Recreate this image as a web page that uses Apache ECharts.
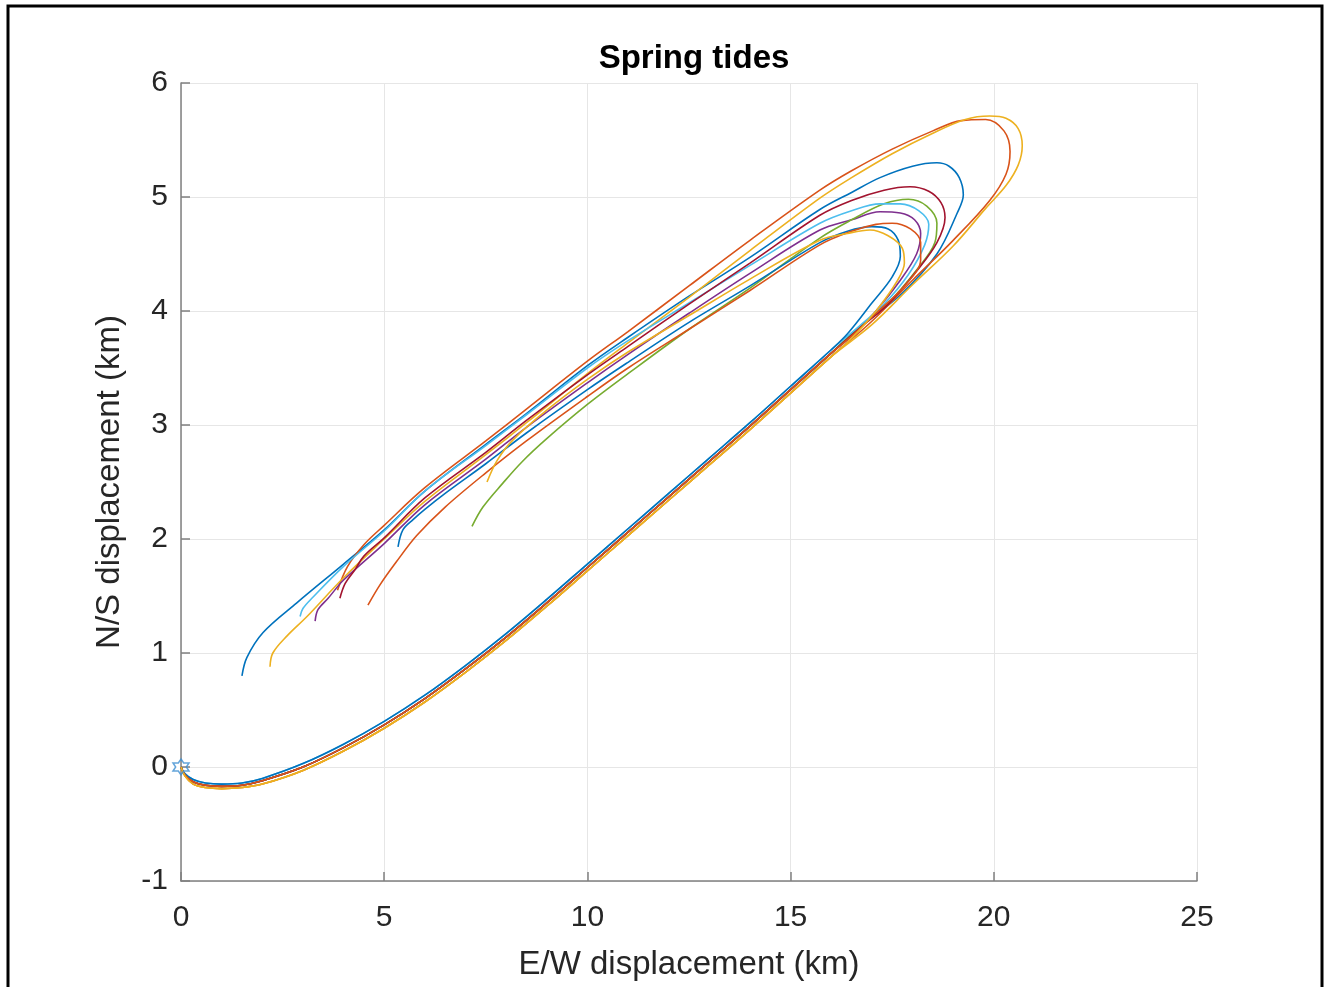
<!DOCTYPE html>
<html>
<head>
<meta charset="utf-8">
<title>Spring tides</title>
<script src="https://cdn.jsdelivr.net/npm/echarts@6/dist/echarts.min.js"></script>
<style>
  html, body { margin: 0; padding: 0; background: #fff; }
  #chart { width: 1332px; height: 987px; }
</style>
</head>
<body>
<div id="chart"></div>
<script>
// axis ticks
const xTicks = [0, 5, 10, 15, 20, 25];
const yTicks = [-1, 0, 1, 2, 3, 4, 5, 6];

// MATLAB default colour order
const lineColors = ['#0072BD', '#D95319', '#EDB120', '#7E2F8E', '#77AC30',
                    '#4DBEEE', '#A2142F', '#0072BD', '#D95319', '#EDB120'];

// shared flood path from the release point (three slightly different strands of the bundle)
const lowOuter = [[0,0],[0.1,-0.08],[0.3,-0.15],[0.6,-0.18],[1,-0.19],[1.5,-0.18],[2,-0.15],[3,-0.03],[4,0.14],[5,0.34],[6,0.57],[7,0.83],[8,1.11],[9,1.41],[10,1.72],[11,2.03],[12,2.34],[13,2.65],[14,2.96],[15,3.28],[16,3.6]];
const lowMid = [[0,0],[0.1,-0.07],[0.3,-0.13],[0.6,-0.16],[1,-0.17],[1.5,-0.16],[2,-0.12],[3,0],[4,0.17],[5,0.37],[6,0.6],[7,0.86],[8,1.14],[9,1.44],[10,1.75],[11,2.06],[12,2.37],[13,2.68],[14,2.99],[15,3.31],[16,3.63]];
const lowInner = [[0,0],[0.1,-0.06],[0.3,-0.11],[0.6,-0.14],[1,-0.15],[1.5,-0.14],[2,-0.1],[3,0.03],[4,0.2],[5,0.4],[6,0.63],[7,0.89],[8,1.17],[9,1.47],[10,1.78],[11,2.09],[12,2.4],[13,2.71],[14,3.02],[15,3.34],[16,3.66]];

// turn at the north-east end and ebb path back, one per release
const turn1 = [[16.7,3.86],[17.7,4.14],[18.6,4.5],[19.1,4.86],[19.25,5.02],[19.15,5.17],[18.9,5.27],[18.6,5.3],[18,5.27],[17.2,5.17],[16.5,5.04],[15.72,4.89],[14,4.47],[12.5,4.13],[11,3.77],[10,3.52],[8.5,3.1],[7.5,2.83],[6,2.42],[5,2.08],[4,1.78],[2.85,1.44],[2.02,1.18],[1.62,0.96],[1.5,0.8]];
const turn2 = [[17,3.91],[18,4.27],[19,4.62],[19.9,4.97],[20.3,5.2],[20.4,5.4],[20.25,5.58],[19.8,5.68],[19.2,5.67],[18.5,5.58],[17.5,5.42],[16.5,5.23],[15.72,5.06],[14,4.62],[12.5,4.22],[11,3.82],[10,3.56],[8.5,3.14],[7.5,2.86],[6,2.45],[5,2.12],[4.5,1.95],[4.1,1.76],[3.85,1.55]];
const turn3 = [[17,3.88],[18,4.23],[19,4.57],[19.8,4.9],[20.3,5.1],[20.6,5.28],[20.7,5.45],[20.6,5.6],[20.3,5.69],[19.9,5.71],[19.3,5.68],[18.5,5.56],[17.5,5.38],[16.5,5.17],[15.72,4.99],[14,4.53],[12.5,4.12],[11,3.72],[10,3.45],[8.5,3.02],[7.5,2.74],[6,2.33],[5,2.0],[4,1.66],[3.1,1.32],[2.61,1.15],[2.26,1.0],[2.19,0.88]];
const turn4 = [[16.5,3.78],[17.1,4.0],[17.7,4.27],[18.1,4.5],[18.2,4.68],[18.05,4.8],[17.7,4.86],[17.2,4.87],[16.5,4.8],[15.72,4.71],[14,4.33],[12.5,3.98],[11,3.62],[10,3.37],[8.5,2.98],[7.5,2.7],[6,2.3],[5,1.96],[4,1.64],[3.62,1.48],[3.37,1.38],[3.3,1.28]];
const turn5 = [[16.7,3.86],[17.4,4.07],[18.1,4.36],[18.55,4.6],[18.6,4.77],[18.35,4.92],[17.9,4.98],[17.3,4.94],[16.5,4.8],[15.72,4.64],[14,4.2],[12.5,3.84],[11,3.45],[10,3.18],[9,2.88],[8.4,2.68],[7.92,2.49],[7.43,2.28],[7.16,2.11]];
const turn6 = [[16.7,3.87],[17.3,4.06],[17.9,4.32],[18.3,4.58],[18.4,4.76],[18.15,4.88],[17.7,4.94],[17.2,4.94],[16.5,4.88],[15.72,4.77],[14,4.4],[12.5,4.07],[11,3.74],[10,3.5],[8.5,3.09],[7.5,2.82],[6,2.42],[5,2.07],[4,1.76],[3.22,1.48],[3.0,1.39],[2.93,1.32]];
const turn7 = [[16.7,3.85],[17.4,4.06],[18.1,4.35],[18.6,4.6],[18.8,4.82],[18.7,4.95],[18.4,5.05],[17.94,5.09],[17.3,5.06],[16.5,4.97],[15.72,4.84],[14,4.42],[12.5,4.06],[11,3.69],[10,3.44],[8.5,3.04],[7.5,2.76],[6,2.36],[5,2.01],[4.5,1.85],[4.28,1.73],[4.04,1.61],[3.91,1.48]];
const turn8 = [[16.4,3.8],[17.0,4.07],[17.5,4.3],[17.7,4.48],[17.65,4.62],[17.4,4.72],[17.0,4.74],[16.4,4.7],[15.72,4.6],[14,4.22],[12.5,3.9],[11,3.55],[10,3.31],[8.5,2.93],[7.5,2.66],[6.5,2.4],[6,2.26],[5.71,2.17],[5.46,2.08],[5.34,1.93]];
const turn9 = [[16.5,3.78],[17.1,3.98],[17.8,4.22],[18.2,4.45],[18.2,4.6],[17.95,4.72],[17.5,4.77],[17.1,4.76],[16.5,4.7],[15.72,4.58],[14,4.18],[12.5,3.84],[11,3.5],[10,3.25],[8.5,2.86],[7.5,2.58],[6.5,2.28],[5.8,2.03],[5.3,1.8],[4.9,1.6],[4.6,1.42]];
const turn10 = [[16.5,3.76],[17.1,4.0],[17.6,4.25],[17.8,4.42],[17.75,4.55],[17.4,4.66],[16.95,4.71],[16.4,4.68],[15.72,4.62],[14,4.28],[12.5,3.96],[11,3.64],[10,3.4],[9,3.13],[8.17,2.87],[7.78,2.69],[7.53,2.5]];

const tracks = [
  lowMid.concat(turn1),
  lowOuter.concat(turn2),
  lowOuter.concat(turn3),
  lowMid.concat(turn4),
  lowMid.concat(turn5),
  lowInner.concat(turn6),
  lowMid.concat(turn7),
  lowInner.concat(turn8),
  lowMid.concat(turn9),
  lowOuter.concat(turn10)
];

const releasePoint = [[0, 0]];

const textColor = '#262626';
const axisColor = '#808080';
const fontFamily = '"Liberation Sans", Arial, Helvetica, sans-serif';
const hexagram = 'path://M0,-10L2.9,-5L8.7,-5L5.8,0L8.7,5L2.9,5L0,10L-2.9,5L-8.7,5L-5.8,0L-8.7,-5L-2.9,-5Z';

const chart = echarts.init(document.getElementById('chart'));

const series = tracks.map((pts, i) => ({
  type: 'line',
  data: pts,
  showSymbol: false,
  smooth: 0.35,
  lineStyle: { color: lineColors[i], width: 1.6 },
  itemStyle: { color: lineColors[i] },
  z: 2 + i * 0.01
}));

series.push({
  type: 'scatter',
  data: releasePoint,
  symbol: hexagram,
  symbolSize: 16,
  itemStyle: { color: 'rgba(255,255,255,0)', borderColor: '#3d8fd1', borderWidth: 1.5 },
  z: 5
});

const option = {
  animation: false,
  backgroundColor: '#fff',
  title: {
    text: 'Spring tides',
    left: 689,
    top: 37,
    textAlign: 'center',
    textStyle: { fontFamily: fontFamily, fontSize: 33, fontWeight: 'bold', color: '#000' }
  },
  grid: { left: 181, right: 135, top: 83, bottom: 106 },
  xAxis: {
    type: 'value',
    min: xTicks[0],
    max: xTicks[xTicks.length - 1],
    interval: 5,
    name: 'E/W displacement (km)',
    nameLocation: 'middle',
    nameGap: 67,
    nameTextStyle: { fontFamily: fontFamily, fontSize: 33, color: textColor },
    axisLine: { onZero: false, lineStyle: { color: axisColor, width: 1.5 } },
    axisTick: { inside: true, length: 9, lineStyle: { color: axisColor, width: 1.5 } },
    axisLabel: { margin: 22, fontFamily: fontFamily, fontSize: 30, color: textColor },
    splitLine: { show: true, lineStyle: { color: '#e6e6e6', width: 1 } }
  },
  yAxis: {
    type: 'value',
    min: yTicks[0],
    max: yTicks[yTicks.length - 1],
    interval: 1,
    name: 'N/S displacement (km)',
    nameLocation: 'middle',
    nameGap: 55,
    nameTextStyle: { fontFamily: fontFamily, fontSize: 33, color: textColor },
    axisLine: { onZero: false, lineStyle: { color: axisColor, width: 1.5 } },
    axisTick: { inside: true, length: 9, lineStyle: { color: axisColor, width: 1.5 } },
    axisLabel: { margin: 13, fontFamily: fontFamily, fontSize: 30, color: textColor },
    splitLine: { show: true, lineStyle: { color: '#e6e6e6', width: 1 } }
  },
  graphic: [{
    type: 'rect',
    shape: { x: 8, y: 6, width: 1314, height: 1000 },
    style: { fill: 'none', stroke: '#000', lineWidth: 3 },
    silent: true,
    z: 100
  }],
  series: series
};

chart.setOption(option);
</script>
</body>
</html>
